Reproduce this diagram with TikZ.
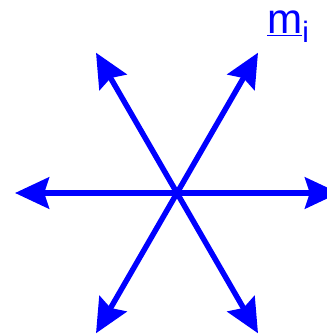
\documentclass[tikz,border=0pt]{standalone}
\usepackage{fontspec}
\setmainfont{Liberation Sans}
\usetikzlibrary{arrows.meta, calc}
\definecolor{azul}{HTML}{0000FF}
\tikzset{
  rayo/.style={line width=3.9pt, color=azul,
               -{Stealth[length=0.85cm, width=0.78cm, inset=0.12cm]}},
  etiqueta/.style={text=azul, font=\fontsize{30}{32}\selectfont, inner sep=0pt}
}
\begin{document}
\begin{tikzpicture}[x=0.025cm, y=-0.025cm]
  \clip (0,0) rectangle (327,335);
  \useasboundingbox (0,0) rectangle (327,335);
  \coordinate (c) at (177,193);
  % six directions, 60 degrees apart
  \foreach \ang/\nom in {0/e, 60/ne, 120/no, 180/o, 240/so, 300/se}
    \coordinate (\nom) at ($(c)+(\ang:162)$);
  \foreach \nom in {e, ne, no, o, so, se}
    \draw [rayo] (c) -- (\nom);
  \node (mi) [etiqueta, anchor=base west] at (267,33) {\underline{m}\textsubscript{i}};
\end{tikzpicture}
\end{document}
